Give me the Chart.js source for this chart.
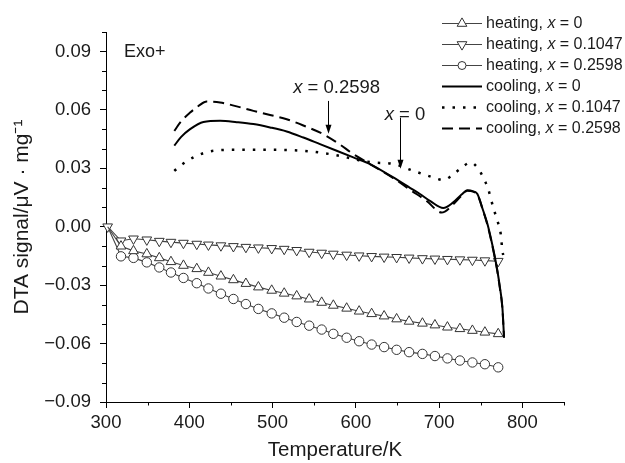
<!DOCTYPE html>
<html lang="en">
<head>
<meta charset="UTF-8">
<title>DTA signal vs temperature</title>
<script src="https://cdn.jsdelivr.net/npm/chart.js@4.4.0/dist/chart.umd.min.js"></script>
<style>
  html, body { margin: 0; padding: 0; background: #fff; }
  #dtaChart { display: block; }
</style>
</head>
<body>
<canvas id="dtaChart" width="625" height="463"></canvas>
<script>
  // heating runs share the same temperature points (K)
  const heatT = [302, 318, 333, 349, 364, 378, 393, 409, 423, 438, 453, 468, 483, 499, 514, 529,
                 544, 559, 573, 589, 604, 619, 634, 649, 664, 680, 695, 710, 725, 740, 755, 771];
  const heatX0 = [0, -0.0100, -0.0124, -0.0140, -0.0160, -0.0180, -0.0199, -0.0216, -0.0235, -0.0254, -0.0273, -0.0292, -0.0310, -0.0327, -0.0342, -0.0356,
                  -0.0372, -0.0389, -0.0404, -0.0419, -0.0434, -0.0447, -0.0459, -0.0474, -0.0486, -0.0496, -0.0505, -0.0516, -0.0524, -0.0533, -0.0542, -0.0550];
  const heatX1047 = [0, -0.0072, -0.0062, -0.0067, -0.0074, -0.0079, -0.0084, -0.0089, -0.0093, -0.0097, -0.0101, -0.0105, -0.0108, -0.0111, -0.0115, -0.0121,
                     -0.0130, -0.0135, -0.0140, -0.0145, -0.0149, -0.0152, -0.0155, -0.0157, -0.0160, -0.0163, -0.0165, -0.0167, -0.0169, -0.0171, -0.0174, -0.0177];
  const heatX2598 = [0, -0.0152, -0.0160, -0.0183, -0.0209, -0.0235, -0.0263, -0.0290, -0.0317, -0.0344, -0.0371, -0.0397, -0.0422, -0.0445, -0.0467, -0.0489,
                     -0.0508, -0.0528, -0.0550, -0.0570, -0.0588, -0.0605, -0.0618, -0.0632, -0.0644, -0.0653, -0.0664, -0.0676, -0.0687, -0.0697, -0.0706, -0.0722];

  // cooling runs
  const coolT0 = [382, 390, 401, 417, 437, 457, 477, 497, 517, 537, 557, 577, 597, 617, 645, 665,
                  677, 690, 705, 717, 727, 734, 741, 746, 753, 758, 762, 766, 770, 773, 776, 778];
  const coolX0 = [0.0416, 0.0460, 0.0501, 0.0538, 0.0544, 0.0537, 0.0527, 0.0510, 0.0489, 0.0458, 0.0424, 0.0390, 0.0356, 0.0322, 0.0253, 0.0200,
                  0.0168, 0.0130, 0.0096, 0.0125, 0.0165, 0.0188, 0.0182, 0.0168, 0.0082, 0.0015, -0.0055, -0.0135, -0.0226, -0.0310, -0.0414, -0.0568];
  const coolT1047 = [382, 393, 405, 417, 429, 457, 497, 537, 569, 590, 605, 621, 645, 669, 693, 705,
                     715, 725, 738, 746, 753, 759, 765, 770, 774, 776, 777];
  const coolX1047 = [0.0287, 0.0325, 0.0356, 0.0378, 0.0390, 0.0395, 0.0395, 0.0390, 0.0373, 0.0355, 0.0340, 0.0330, 0.0322, 0.0287, 0.0253, 0.0240,
                     0.0262, 0.0296, 0.0330, 0.0304, 0.0253, 0.0193, 0.0099, 0.0031, -0.0037, -0.0123, -0.0145];
  const coolT2598 = [382, 390, 401, 411, 421, 437, 457, 477, 497, 517, 537, 561, 580, 597, 617, 645,
                     665, 685, 703, 717, 727, 734, 741, 746, 753, 758, 762, 766, 770, 773, 776, 778];
  const coolX2598 = [0.0492, 0.0540, 0.0586, 0.0620, 0.0643, 0.0638, 0.0618, 0.0595, 0.0574, 0.0552, 0.0520, 0.0475, 0.0425, 0.0373, 0.0322, 0.0250,
                     0.0190, 0.0133, 0.0073, 0.0115, 0.0160, 0.0185, 0.0180, 0.0165, 0.0080, 0.0010, -0.0060, -0.0140, -0.0230, -0.0315, -0.0420, -0.0570];

  const xMajor = [300, 400, 500, 600, 700, 800];
  const xMinor = [350, 450, 550, 650, 750, 850];
  const yMajor = [-0.09, -0.06, -0.03, 0.00, 0.03, 0.06, 0.09];
  const yMinor = [-0.08, -0.07, -0.05, -0.04, -0.02, -0.01, 0.01, 0.02, 0.04, 0.05, 0.07, 0.08, 0.10];

  const legendLabels = [
    ['heating, ', ' = 0'],
    ['heating, ', ' = 0.1047'],
    ['heating, ', ' = 0.2598'],
    ['cooling, ', ' = 0'],
    ['cooling, ', ' = 0.1047'],
    ['cooling, ', ' = 0.2598']
  ];

  const FONT = "'Liberation Sans', Arial, Helvetica, sans-serif";
  const pts = (xs, ys) => xs.map((t, i) => ({ x: t, y: ys[i] }));
  // shared start point only carries the down-triangle marker
  const hideFirst = r => heatT.map((t, i) => (i === 0 ? 0 : r));

  const heatStyle = {
    borderColor: '#444', borderWidth: 1.1,
    pointBackgroundColor: '#fff', pointBorderColor: '#333', pointBorderWidth: 1,
    tension: 0, clip: false, order: 2
  };
  const coolStyle = { borderColor: '#000', pointRadius: 0, cubicInterpolationMode: 'monotone', order: 1 };

  const datasets = [
    { ...heatStyle, data: pts(heatT, heatX0), pointStyle: 'triangle', pointRadius: hideFirst(5.6), legendRadius: 5.6 },
    { ...heatStyle, data: pts(heatT, heatX1047), pointStyle: 'triangle', pointRotation: 180, pointRadius: 5.6, legendRadius: 5.6 },
    { ...heatStyle, data: pts(heatT, heatX2598), pointStyle: 'circle', pointRadius: hideFirst(4.7), legendRadius: 4 },
    { ...coolStyle, data: pts(coolT0, coolX0), borderWidth: 2 },
    { ...coolStyle, data: pts(coolT1047, coolX1047), borderWidth: 2.5, borderDash: [2.5, 8] },
    { ...coolStyle, data: pts(coolT2598, coolX2598), borderWidth: 2, borderDash: [11, 6] }
  ];

  // text with an italic "x" in it
  function richText(ctx, before, after, x, y, size, align) {
    const normal = size + 'px ' + FONT, italic = 'italic ' + size + 'px ' + FONT;
    ctx.font = normal; const w1 = ctx.measureText(before).width, w3 = ctx.measureText(after).width;
    ctx.font = italic; const w2 = ctx.measureText('x').width;
    let sx = align === 'center' ? x - (w1 + w2 + w3) / 2 : x;
    ctx.textAlign = 'left'; ctx.textBaseline = 'middle';
    ctx.font = normal; ctx.fillText(before, sx, y);
    ctx.font = italic; ctx.fillText('x', sx + w1, y);
    ctx.font = normal; ctx.fillText(after, sx + w1 + w2, y);
  }

  function arrow(ctx, px, y0, y1) {
    ctx.beginPath();
    ctx.moveTo(px, y0); ctx.lineTo(px, y1 - 6);
    ctx.stroke();
    ctx.beginPath();
    ctx.moveTo(px - 3, y1 - 9); ctx.lineTo(px + 3, y1 - 9); ctx.lineTo(px, y1);
    ctx.closePath(); ctx.fill();
  }

  const extras = {
    id: 'extras',
    afterDraw(chart) {
      const { ctx, chartArea: area, scales: { x, y } } = chart;
      ctx.save();
      ctx.strokeStyle = '#000'; ctx.lineWidth = 1;
      ctx.beginPath();
      xMinor.forEach(v => {
        const px = Math.round(x.getPixelForValue(v)) + 0.5;
        ctx.moveTo(px, area.bottom); ctx.lineTo(px, area.bottom + 3.5);
      });
      yMinor.forEach(v => {
        const py = Math.round(y.getPixelForValue(v)) + 0.5;
        ctx.moveTo(area.left - 4, py); ctx.lineTo(area.left, py);
      });
      ctx.stroke();

      ctx.fillStyle = '#1a1a1a';
      ctx.font = '18px ' + FONT; ctx.textAlign = 'left'; ctx.textBaseline = 'middle';
      ctx.fillText('Exo+', x.getPixelForValue(321.6), y.getPixelForValue(0.0895));

      richText(ctx, '', ' = 0.2598', x.getPixelForValue(577), y.getPixelForValue(0.0713), 18.5, 'center');
      richText(ctx, '', ' = 0', x.getPixelForValue(659), y.getPixelForValue(0.0575), 18.5, 'center');
      ctx.lineWidth = 1; ctx.fillStyle = '#000';
      arrow(ctx, Math.round(x.getPixelForValue(566)) + 0.5, y.getPixelForValue(0.0646), y.getPixelForValue(0.0477));
      arrow(ctx, Math.round(x.getPixelForValue(652.5)) + 0.5, y.getPixelForValue(0.0560), y.getPixelForValue(0.0298));

      // legend
      const rowY = [23, 44, 65, 86, 107, 128];
      const lx0 = 442, lx1 = 482, tx = 486;
      chart.data.datasets.forEach((ds, i) => {
        const yy = rowY[i] + 0.5;
        ctx.save();
        ctx.strokeStyle = ds.borderColor; ctx.lineWidth = ds.borderWidth;
        ctx.setLineDash(ds.borderDash || []);
        ctx.beginPath(); ctx.moveTo(lx0, yy); ctx.lineTo(lx1, yy); ctx.stroke();
        ctx.setLineDash([]);
        if (ds.legendRadius) {
          ctx.fillStyle = ds.pointBackgroundColor; ctx.strokeStyle = ds.pointBorderColor;
          ctx.lineWidth = ds.pointBorderWidth;
          Chart.helpers.drawPoint(ctx, {
            pointStyle: ds.pointStyle, rotation: ds.pointRotation || 0,
            radius: ds.legendRadius, borderWidth: ds.pointBorderWidth
          }, (lx0 + lx1) / 2, yy);
        }
        ctx.restore();
        ctx.fillStyle = '#1a1a1a';
        richText(ctx, legendLabels[i][0], legendLabels[i][1], tx, yy, 16, 'left');
      });
      ctx.restore();
    }
  };

  new Chart(document.getElementById('dtaChart'), {
    type: 'line',
    data: { datasets },
    options: {
      responsive: false,
      animation: false,
      devicePixelRatio: 1,
      layout: { padding: { top: 32, right: 61, left: 0, bottom: 0 } },
      plugins: { legend: { display: false }, tooltip: { enabled: false } },
      scales: {
        x: {
          type: 'linear', min: 300, max: 850,
          afterBuildTicks: s => { s.ticks = xMajor.map(v => ({ value: v })); },
          afterFit: s => { s.height = 61; },
          grid: { drawOnChartArea: false, drawTicks: true, tickLength: 6, tickColor: '#000' },
          border: { display: true, color: '#000', width: 1 },
          ticks: { color: '#1a1a1a', padding: 4, font: { family: FONT, size: 18.5 }, maxRotation: 0 },
          title: { display: true, text: 'Temperature/K', color: '#1a1a1a', font: { family: FONT, size: 20.5 }, padding: { top: 0, bottom: 0 } }
        },
        y: {
          min: -0.09, max: 0.10,
          afterBuildTicks: s => { s.ticks = yMajor.map(v => ({ value: v })); },
          afterFit: s => { s.width = 106; },
          grid: { drawOnChartArea: false, drawTicks: true, tickLength: 6, tickColor: '#000' },
          border: { display: true, color: '#000', width: 1 },
          ticks: {
            color: '#1a1a1a', padding: 9, font: { family: FONT, size: 18.5 },
            callback: v => v.toFixed(2).replace('-', '\u2212')
          },
          title: { display: true, text: 'DTA signal/\u03bcV \u00b7 mg\u207b\u00b9', color: '#1a1a1a', font: { family: FONT, size: 21 }, padding: { top: 10, bottom: 0 } }
        }
      }
    },
    plugins: [extras]
  });
</script>
</body>
</html>
